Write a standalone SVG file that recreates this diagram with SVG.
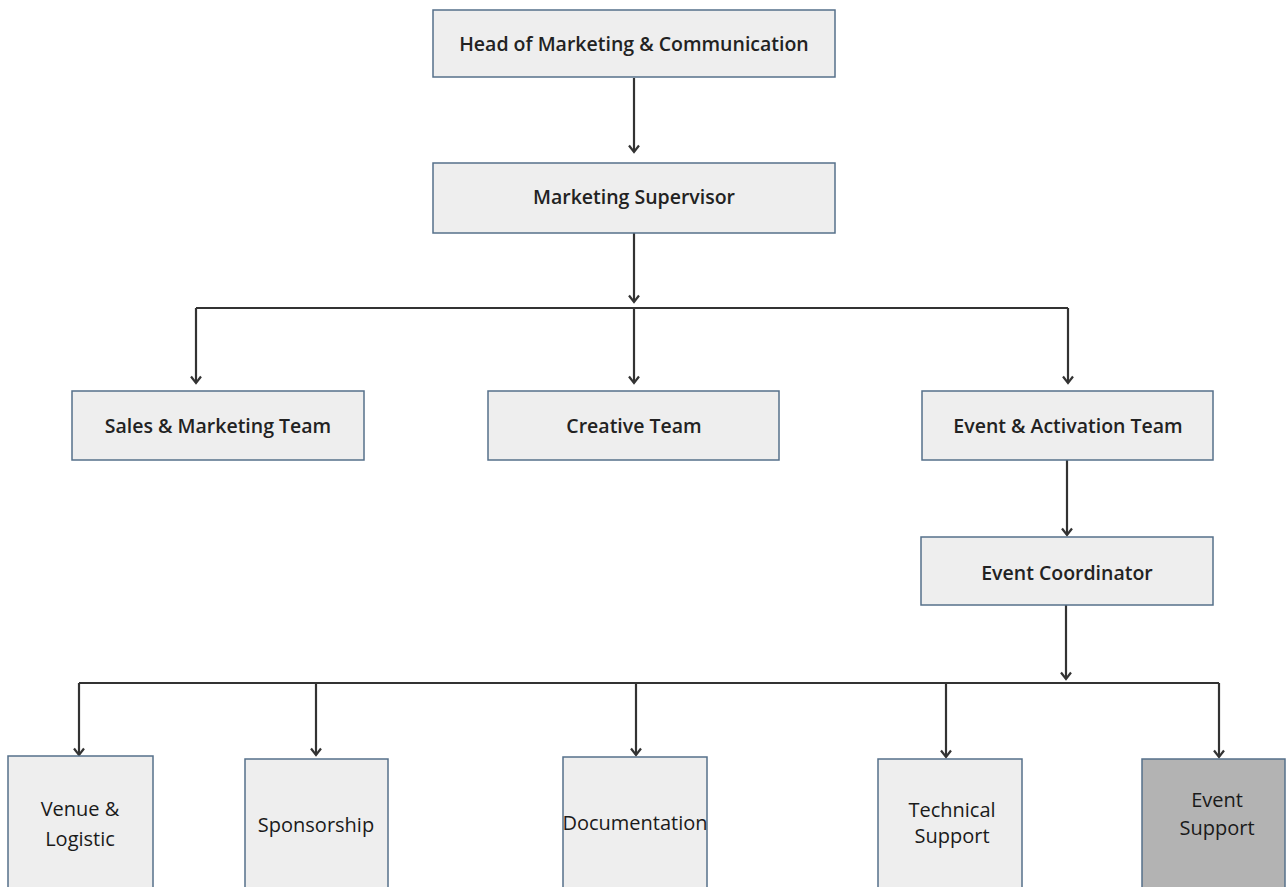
<svg xmlns="http://www.w3.org/2000/svg" width="1287" height="887" viewBox="0 0 1287 887">
<defs>
<marker id="ah" markerWidth="12" markerHeight="12" refX="9" refY="6" orient="auto" markerUnits="userSpaceOnUse" viewBox="0 0 12 12">
<path d="M2.5,1 L9,6 L2.5,11" fill="none" stroke="#333" stroke-width="2.2"/>
</marker>
<style>
.box{fill:#eeeeee;stroke:#56708a;stroke-width:1.5}
.dark{fill:#b3b3b3;stroke:#56708a;stroke-width:1.5}
.t{font-family:"Open Sans","Liberation Sans",sans-serif;font-weight:600;font-size:19.5px;fill:#222;text-anchor:middle}
.s{font-family:"Open Sans","Liberation Sans",sans-serif;font-weight:500;font-size:20px;fill:#1a1a1a;text-anchor:middle}
.c{fill:none;stroke:#333;stroke-width:2.2}
</style>
</defs>
<rect width="1287" height="887" fill="#ffffff"/>
<g id="connectors">
<path class="c" d="M634,78 V152" marker-end="url(#ah)"/>
<path class="c" d="M634,233 V302" marker-end="url(#ah)"/>
<path class="c" d="M196,308 H1068"/>
<path class="c" d="M196,308 V383" marker-end="url(#ah)"/>
<path class="c" d="M634,308 V383" marker-end="url(#ah)"/>
<path class="c" d="M1068,308 V383" marker-end="url(#ah)"/>
<path class="c" d="M1067,460 V535" marker-end="url(#ah)"/>
<path class="c" d="M1066,605 V679" marker-end="url(#ah)"/>
<path class="c" d="M79,683 H1219"/>
<path class="c" d="M79,683 V755" marker-end="url(#ah)"/>
<path class="c" d="M316,683 V755" marker-end="url(#ah)"/>
<path class="c" d="M636,683 V755" marker-end="url(#ah)"/>
<path class="c" d="M946,683 V757" marker-end="url(#ah)"/>
<path class="c" d="M1219,683 V757" marker-end="url(#ah)"/>
</g>
<g id="head">
<rect class="box" x="433" y="10" width="402" height="67"/>
<text class="t" x="634" y="51">Head of Marketing &amp; Communication</text>
</g>
<g id="supervisor">
<rect class="box" x="433" y="163" width="402" height="70"/>
<text class="t" x="634" y="204">Marketing Supervisor</text>
</g>
<g id="sales">
<rect class="box" x="72" y="391" width="292" height="69"/>
<text class="t" x="218" y="433">Sales &amp; Marketing Team</text>
</g>
<g id="creative">
<rect class="box" x="488" y="391" width="291" height="69"/>
<text class="t" x="634" y="433">Creative Team</text>
</g>
<g id="event-activation">
<rect class="box" x="922" y="391" width="291" height="69"/>
<text class="t" x="1068" y="433">Event &amp; Activation Team</text>
</g>
<g id="coordinator">
<rect class="box" x="921" y="537" width="292" height="68"/>
<text class="t" x="1067" y="580">Event Coordinator</text>
</g>
<g id="venue">
<rect class="box" x="8" y="756" width="145" height="140"/>
<text class="s" x="80" y="816" font-size="21">Venue &amp;</text>
<text class="s" x="80" y="846" font-size="21">Logistic</text>
</g>
<g id="sponsorship">
<rect class="box" x="245" y="759" width="143" height="140"/>
<text class="s" x="316" y="832" font-size="20.5">Sponsorship</text>
</g>
<g id="documentation">
<rect class="box" x="563" y="757" width="144" height="140"/>
<text class="s" x="635" y="830" font-size="18">Documentation</text>
</g>
<g id="technical">
<rect class="box" x="878" y="759" width="144" height="140"/>
<text class="s" x="952" y="817" font-size="18.5">Technical</text>
<text class="s" x="952" y="843" font-size="18.5">Support</text>
</g>
<g id="event-support">
<rect class="dark" x="1142" y="759" width="143" height="140"/>
<text class="s" x="1217" y="807" font-size="19.5">Event</text>
<text class="s" x="1217" y="835" font-size="19.5">Support</text>
</g>
</svg>
